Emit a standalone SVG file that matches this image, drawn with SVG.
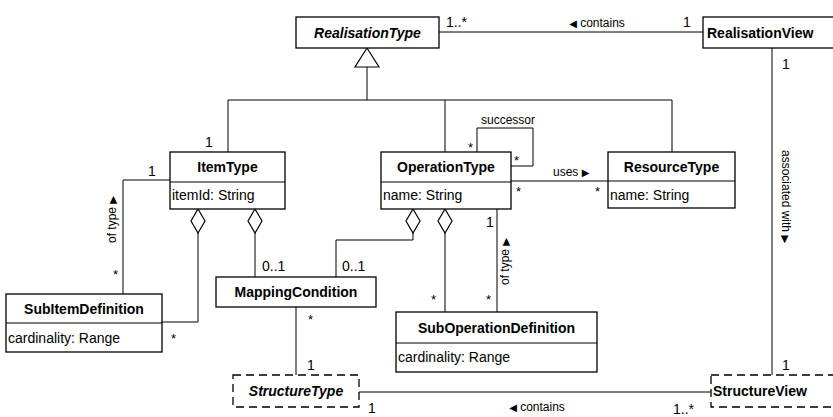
<svg xmlns="http://www.w3.org/2000/svg" width="833" height="417" viewBox="0 0 833 417">
<style>
.box{fill:#fff;stroke:#000;stroke-width:1.3}
.dash{fill:#fff;stroke:#000;stroke-width:1.3;stroke-dasharray:8 5}
.ln{fill:none;stroke:#000;stroke-width:1}
.dia{fill:#fff;stroke:#000;stroke-width:1.2}
.t{font-family:"Liberation Sans",Arial,sans-serif;fill:#000}
.name{font-size:14px;font-weight:bold}
.it{font-style:italic}
.attr{font-size:14px}
.m{font-size:14px}
.s{font-size:12px}
.st{font-size:13px}
.tri{font-family:"DejaVu Sans",sans-serif;font-size:10px}
</style>
<rect width="833" height="417" fill="#fff"/>
<g id="connectors">
  <!-- generalization -->
  <polyline class="ln" points="228,152 228,100 672,100 672,152"/>
  <line class="ln" x1="445" y1="100" x2="445" y2="152"/>
  <line class="ln" x1="367" y1="67" x2="367" y2="100"/>
  <polygon class="dia" points="367,48 355,67 379,67"/>
  <!-- contains top -->
  <line class="ln" x1="439" y1="32" x2="703" y2="32"/>
  <text class="t m" x="446" y="27">1..*</text>
  <text class="t s" x="597" y="27" text-anchor="middle"><tspan class="tri">◀</tspan> contains</text>
  <text class="t m" x="683" y="27">1</text>
  <!-- associated with -->
  <line class="ln" x1="772" y1="48" x2="772" y2="375"/>
  <text class="t m" x="782" y="69">1</text>
  <text class="t s" transform="translate(782,150) rotate(90)">associated with <tspan class="tri">▶</tspan></text>
  <text class="t m" x="782" y="370">1</text>
  <!-- ItemType of type SubItem -->
  <polyline class="ln" points="170,180 123,180 123,294"/>
  <text class="t m" x="148" y="176">1</text>
  <text class="t m" x="205" y="147">1</text>
  <text class="t s" transform="translate(116,243) rotate(-90)">of type <tspan class="tri">▶</tspan></text>
  <text class="t st" x="113" y="279">*</text>
  <!-- ItemType aggregation SubItem -->
  <polyline class="ln" points="198,233 198,322 162,322"/>
  <polygon class="dia" points="198,209 205,221 198,233 191,221"/>
  <text class="t st" x="171" y="343">*</text>
  <!-- ItemType aggregation MappingCondition -->
  <line class="ln" x1="255" y1="233" x2="255" y2="277"/>
  <polygon class="dia" points="255,209 262,221 255,233 248,221"/>
  <text class="t m" x="262" y="271">0..1</text>
  <!-- OperationType aggregation MappingCondition -->
  <polyline class="ln" points="413,233 413,240 336,240 336,277"/>
  <polygon class="dia" points="413,209 420,221 413,233 406,221"/>
  <text class="t m" x="342" y="271">0..1</text>
  <!-- MappingCondition - StructureType -->
  <line class="ln" x1="296" y1="307" x2="296" y2="375"/>
  <text class="t st" x="308" y="324">*</text>
  <text class="t m" x="307" y="370">1</text>
  <!-- OperationType aggregation SubOperationDefinition -->
  <line class="ln" x1="445" y1="233" x2="445" y2="312"/>
  <polygon class="dia" points="445,209 452,221 445,233 438,221"/>
  <text class="t st" x="431" y="304">*</text>
  <!-- OperationType of type SubOperationDefinition -->
  <line class="ln" x1="497" y1="209" x2="497" y2="312"/>
  <text class="t m" x="486" y="227">1</text>
  <text class="t s" transform="translate(509,285) rotate(-90)">of type <tspan class="tri">▶</tspan></text>
  <text class="t st" x="486" y="304">*</text>
  <!-- successor -->
  <polyline class="ln" points="477,152 477,128 533,128 533,166 511,166"/>
  <text class="t s" x="508" y="124" text-anchor="middle">successor</text>
  <text class="t st" x="468" y="152">*</text>
  <text class="t st" x="514" y="165">*</text>
  <!-- uses -->
  <line class="ln" x1="511" y1="181" x2="608" y2="181"/>
  <text class="t s" x="553" y="176">uses <tspan class="tri">▶</tspan></text>
  <text class="t st" x="516" y="196">*</text>
  <text class="t st" x="595" y="196">*</text>
  <!-- contains bottom -->
  <line class="ln" x1="359" y1="392" x2="711" y2="392"/>
  <text class="t m" x="368" y="413">1</text>
  <text class="t s" x="537" y="411" text-anchor="middle"><tspan class="tri">◀</tspan> contains</text>
  <text class="t m" x="673" y="414">1..*</text>
</g>
<g id="RealisationType">
  <rect class="box" x="296" y="17" width="143" height="31"/>
  <text class="t name it" x="367.5" y="38" text-anchor="middle">RealisationType</text>
</g>
<g id="RealisationView">
  <rect class="box" x="703" y="17" width="140" height="31"/>
  <text class="t name" x="707" y="38">RealisationView</text>
</g>
<g id="ItemType">
  <rect class="box" x="170" y="152" width="115" height="57"/>
  <line class="ln" x1="170" y1="182" x2="285" y2="182"/>
  <text class="t name" x="227.5" y="172" text-anchor="middle">ItemType</text>
  <text class="t attr" x="172" y="200">itemId: String</text>
</g>
<g id="OperationType">
  <rect class="box" x="381" y="152" width="130" height="57"/>
  <line class="ln" x1="381" y1="182" x2="511" y2="182"/>
  <text class="t name" x="446" y="172" text-anchor="middle">OperationType</text>
  <text class="t attr" x="383" y="200">name: String</text>
</g>
<g id="ResourceType">
  <rect class="box" x="608" y="152" width="127" height="56"/>
  <line class="ln" x1="608" y1="181" x2="735" y2="181"/>
  <text class="t name" x="671.5" y="172" text-anchor="middle">ResourceType</text>
  <text class="t attr" x="610" y="200">name: String</text>
</g>
<g id="SubItemDefinition">
  <rect class="box" x="6" y="294" width="156" height="58"/>
  <line class="ln" x1="6" y1="323" x2="162" y2="323"/>
  <text class="t name" x="84" y="314" text-anchor="middle">SubItemDefinition</text>
  <text class="t attr" x="8" y="343">cardinality: Range</text>
</g>
<g id="MappingCondition">
  <rect class="box" x="216" y="277" width="160" height="30"/>
  <text class="t name" x="296" y="297" text-anchor="middle">MappingCondition</text>
</g>
<g id="SubOperationDefinition">
  <rect class="box" x="396" y="312" width="201" height="60"/>
  <line class="ln" x1="396" y1="343" x2="597" y2="343"/>
  <text class="t name" x="496.5" y="333" text-anchor="middle">SubOperationDefinition</text>
  <text class="t attr" x="398" y="362">cardinality: Range</text>
</g>
<g id="StructureType">
  <rect class="dash" x="233" y="375" width="126" height="32"/>
  <text class="t name it" x="296" y="396" text-anchor="middle">StructureType</text>
</g>
<g id="StructureView">
  <rect class="dash" x="711" y="375" width="135" height="32"/>
  <text class="t name" x="713" y="396">StructureView</text>
</g>
</svg>
